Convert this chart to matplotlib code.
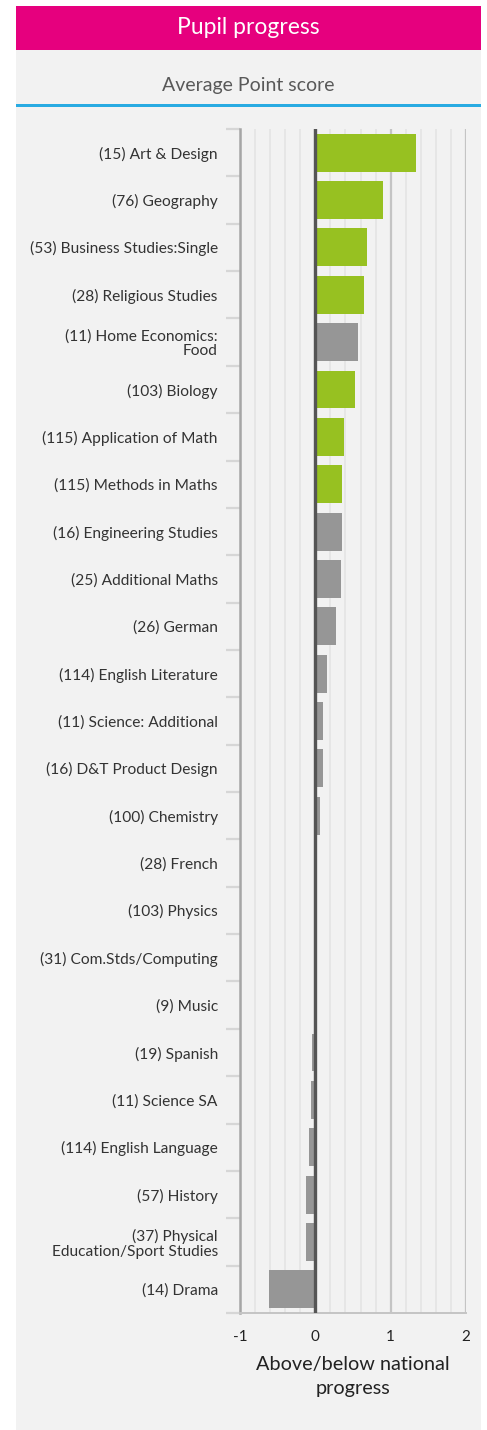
import matplotlib.pyplot as plt
from matplotlib.patches import Rectangle
from matplotlib.ticker import MultipleLocator

plt.rcParams['font.family'] = ['Lato', 'DejaVu Sans']

# 데이터
subjects = [
    "(15) Art & Design", "(76) Geography", "(53) Business Studies:Single",
    "(28) Religious Studies", "(11) Home Economics:\nFood", "(103) Biology",
    "(115) Application of Math", "(115) Methods in Maths", "(16) Engineering Studies",
    "(25) Additional Maths", "(26) German", "(114) English Literature",
    "(11) Science: Additional", "(16) D&T Product Design", "(100) Chemistry",
    "(28) French", "(103) Physics", "(31) Com.Stds/Computing", "(9) Music",
    "(19) Spanish", "(11) Science SA", "(114) English Language", "(57) History",
    "(37) Physical\nEducation/Sport Studies", "(14) Drama",
]
progress = [1.34, 0.90, 0.68, 0.64, 0.56, 0.52, 0.38, 0.36, 0.36, 0.34, 0.28,
            0.16, 0.10, 0.10, 0.06, 0.0, 0.0, 0.0, 0.0, -0.05, -0.06, -0.09,
            -0.13, -0.13, -0.61]
significant = [True, True, True, True, False, True, True, True, False, False,
               False, False, False, False, False, False, False, False, False,
               False, False, False, False, False, False]
x_ticks = [-1, 0, 1, 2]

W, H = 487, 1430
fig = plt.figure(figsize=(W / 100, H / 100), dpi=100)
fig.patch.set_facecolor('white')

# 배경 패널, 제목 바
fig.patches.append(Rectangle((16 / W, 0), 465 / W, 1 - 50 / H, transform=fig.transFigure,
                             facecolor='#f2f2f2', edgecolor='none', zorder=-10))
fig.patches.append(Rectangle((16 / W, 1 - 50 / H), 465 / W, 44 / H, transform=fig.transFigure,
                             facecolor='#e6007e', edgecolor='none', zorder=-10))
fig.patches.append(Rectangle((16 / W, 1 - 107 / H), 465 / W, 3 / H, transform=fig.transFigure,
                             facecolor='#29abe2', edgecolor='none', zorder=-10))
fig.text(248.5 / W, 1 - 28 / H, "Pupil progress", color='white', fontsize=16.5,
         ha='center', va='center')
fig.text(248.5 / W, 1 - 85 / H, "Average Point score", color='#595959', fontsize=14,
         ha='center', va='center')

ax = fig.add_axes([240 / W, 1 - 1313 / H, 226 / W, (1313 - 129) / H])
ax.set_facecolor('#f2f2f2')

y = list(range(len(subjects)))
colors = ['#97c121' if s else '#969696' for s in significant]
ax.barh(y, progress, height=0.8, color=colors, zorder=2)
ax.axvline(0, color='#555555', lw=2.4, zorder=3)

ax.set_xlim(-1, 2)
ax.set_ylim(len(subjects) - 0.5, -0.5)
ax.xaxis.set_minor_locator(MultipleLocator(0.2))
ax.set_xticks(x_ticks)
ax.set_xticklabels([str(t) for t in x_ticks])
ax.grid(axis='x', which='minor', color='#e4e4e4', lw=1.2, zorder=0)
ax.grid(axis='x', which='major', color='#c4c4c4', lw=1.6, zorder=0)
ax.set_axisbelow(True)

ax.set_yticks(y)
ax.set_yticklabels(subjects, fontsize=11.2, color='#333333', linespacing=1.05)
ax.set_yticks([i - 0.5 for i in range(len(subjects) + 1)], minor=True)
ax.tick_params(axis='y', which='major', length=0, pad=16)
ax.tick_params(axis='y', which='minor', length=10, width=1.6, color='#d6d6d6')
ax.tick_params(axis='x', which='both', length=0, pad=12, labelsize=11, labelcolor='#222222')

for side in ['top', 'right']:
    ax.spines[side].set_visible(False)
ax.spines['left'].set_color('#a6a6a6')
ax.spines['left'].set_linewidth(1.8)
ax.spines['bottom'].set_color('#c4c4c4')
ax.spines['bottom'].set_linewidth(1.4)

ax.set_xlabel("Above/below national\nprogress", fontsize=14.3, color='#222222', labelpad=9,
              linespacing=1.5)

plt.savefig('out.png', dpi=100)
